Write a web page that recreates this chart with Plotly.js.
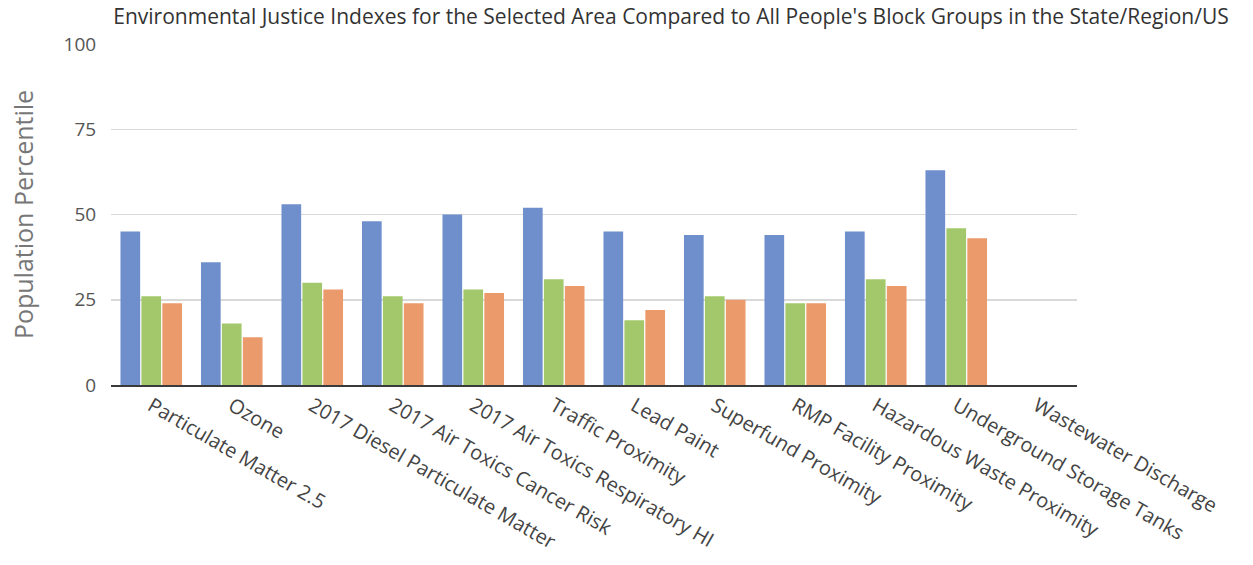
<!DOCTYPE html>
<html>
<head>
<meta charset="utf-8">
<script src="https://cdn.plot.ly/plotly-3.0.1.min.js"></script>
<style>html,body{margin:0;padding:0;background:#fff;}#chart{width:1253px;height:565px;}</style>
</head>
<body>
<div id="chart"></div>
<script>
const categories = ["Particulate Matter 2.5", "Ozone", "2017 Diesel Particulate Matter", "2017 Air Toxics Cancer Risk", "2017 Air Toxics Respiratory HI", "Traffic Proximity", "Lead Paint", "Superfund Proximity", "RMP Facility Proximity", "Hazardous Waste Proximity", "Underground Storage Tanks", "Wastewater Discharge"];
const selectedArea = [45, 36, 53, 48, 50, 52, 45, 44, 44, 45, 63, null];
const stateRegion = [26, 18, 30, 26, 28, 31, 19, 26, 24, 31, 46, null];
const usPercentile = [24, 14, 28, 24, 27, 29, 22, 25, 24, 29, 43, null];
const seriesNames = ["Selected Area", "State", "US"];
const yTicks = [0, 25, 50, 75, 100];

const colors = ["#6f8fcc", "#a3c86c", "#eb9a6b"];
const series = [selectedArea, stateRegion, usPercentile];
const data = series.map((vals, i) => ({
  type: "bar",
  x: categories,
  y: vals,
  name: seriesNames[i],
  marker: {color: colors[i]},
  hoverinfo: "x+y+name"
}));

const layout = {
  width: 1253,
  height: 565,
  margin: {l: 111, r: 176, t: 44, b: 180},
  paper_bgcolor: "#ffffff",
  plot_bgcolor: "#ffffff",
  showlegend: false,
  barmode: "group",
  bargap: 0.22,
  bargroupgap: 0.06,
  font: {family: "Open Sans, sans-serif", color: "#444"},
  title: {
    text: "Environmental Justice Indexes for the Selected Area Compared to All People's Block Groups in the State/Region/US",
    font: {size: 21, color: "#333", family: "Open Sans, sans-serif"},
    xref: "container", x: 671 / 1253, xanchor: "center",
    yref: "container", y: 1 - 17 / 565, yanchor: "middle"
  },
  xaxis: {
    type: "category",
    tickangle: 30,
    tickfont: {size: 20, color: "#444"},
    showline: true,
    linecolor: "#3a3a3a",
    linewidth: 1.5,
    ticks: "",
    showgrid: false,
    automargin: false
  },
  yaxis: {
    range: [0, 100],
    tickvals: yTicks,
    ticktext: yTicks.map(String),
    tickfont: {size: 19, color: "#555"},
    showgrid: true,
    gridcolor: "#d9d9d9",
    gridwidth: 1.5,
    zeroline: false,
    showline: false,
    ticks: "outside",
    ticklen: 10,
    tickcolor: "rgba(0,0,0,0)",
    automargin: false,
    title: {text: "Population Percentile", font: {size: 25, color: "#777"}, standoff: 22}
  }
};

Plotly.newPlot("chart", data, layout, {displayModeBar: false, staticPlot: true});
</script>
</body>
</html>
